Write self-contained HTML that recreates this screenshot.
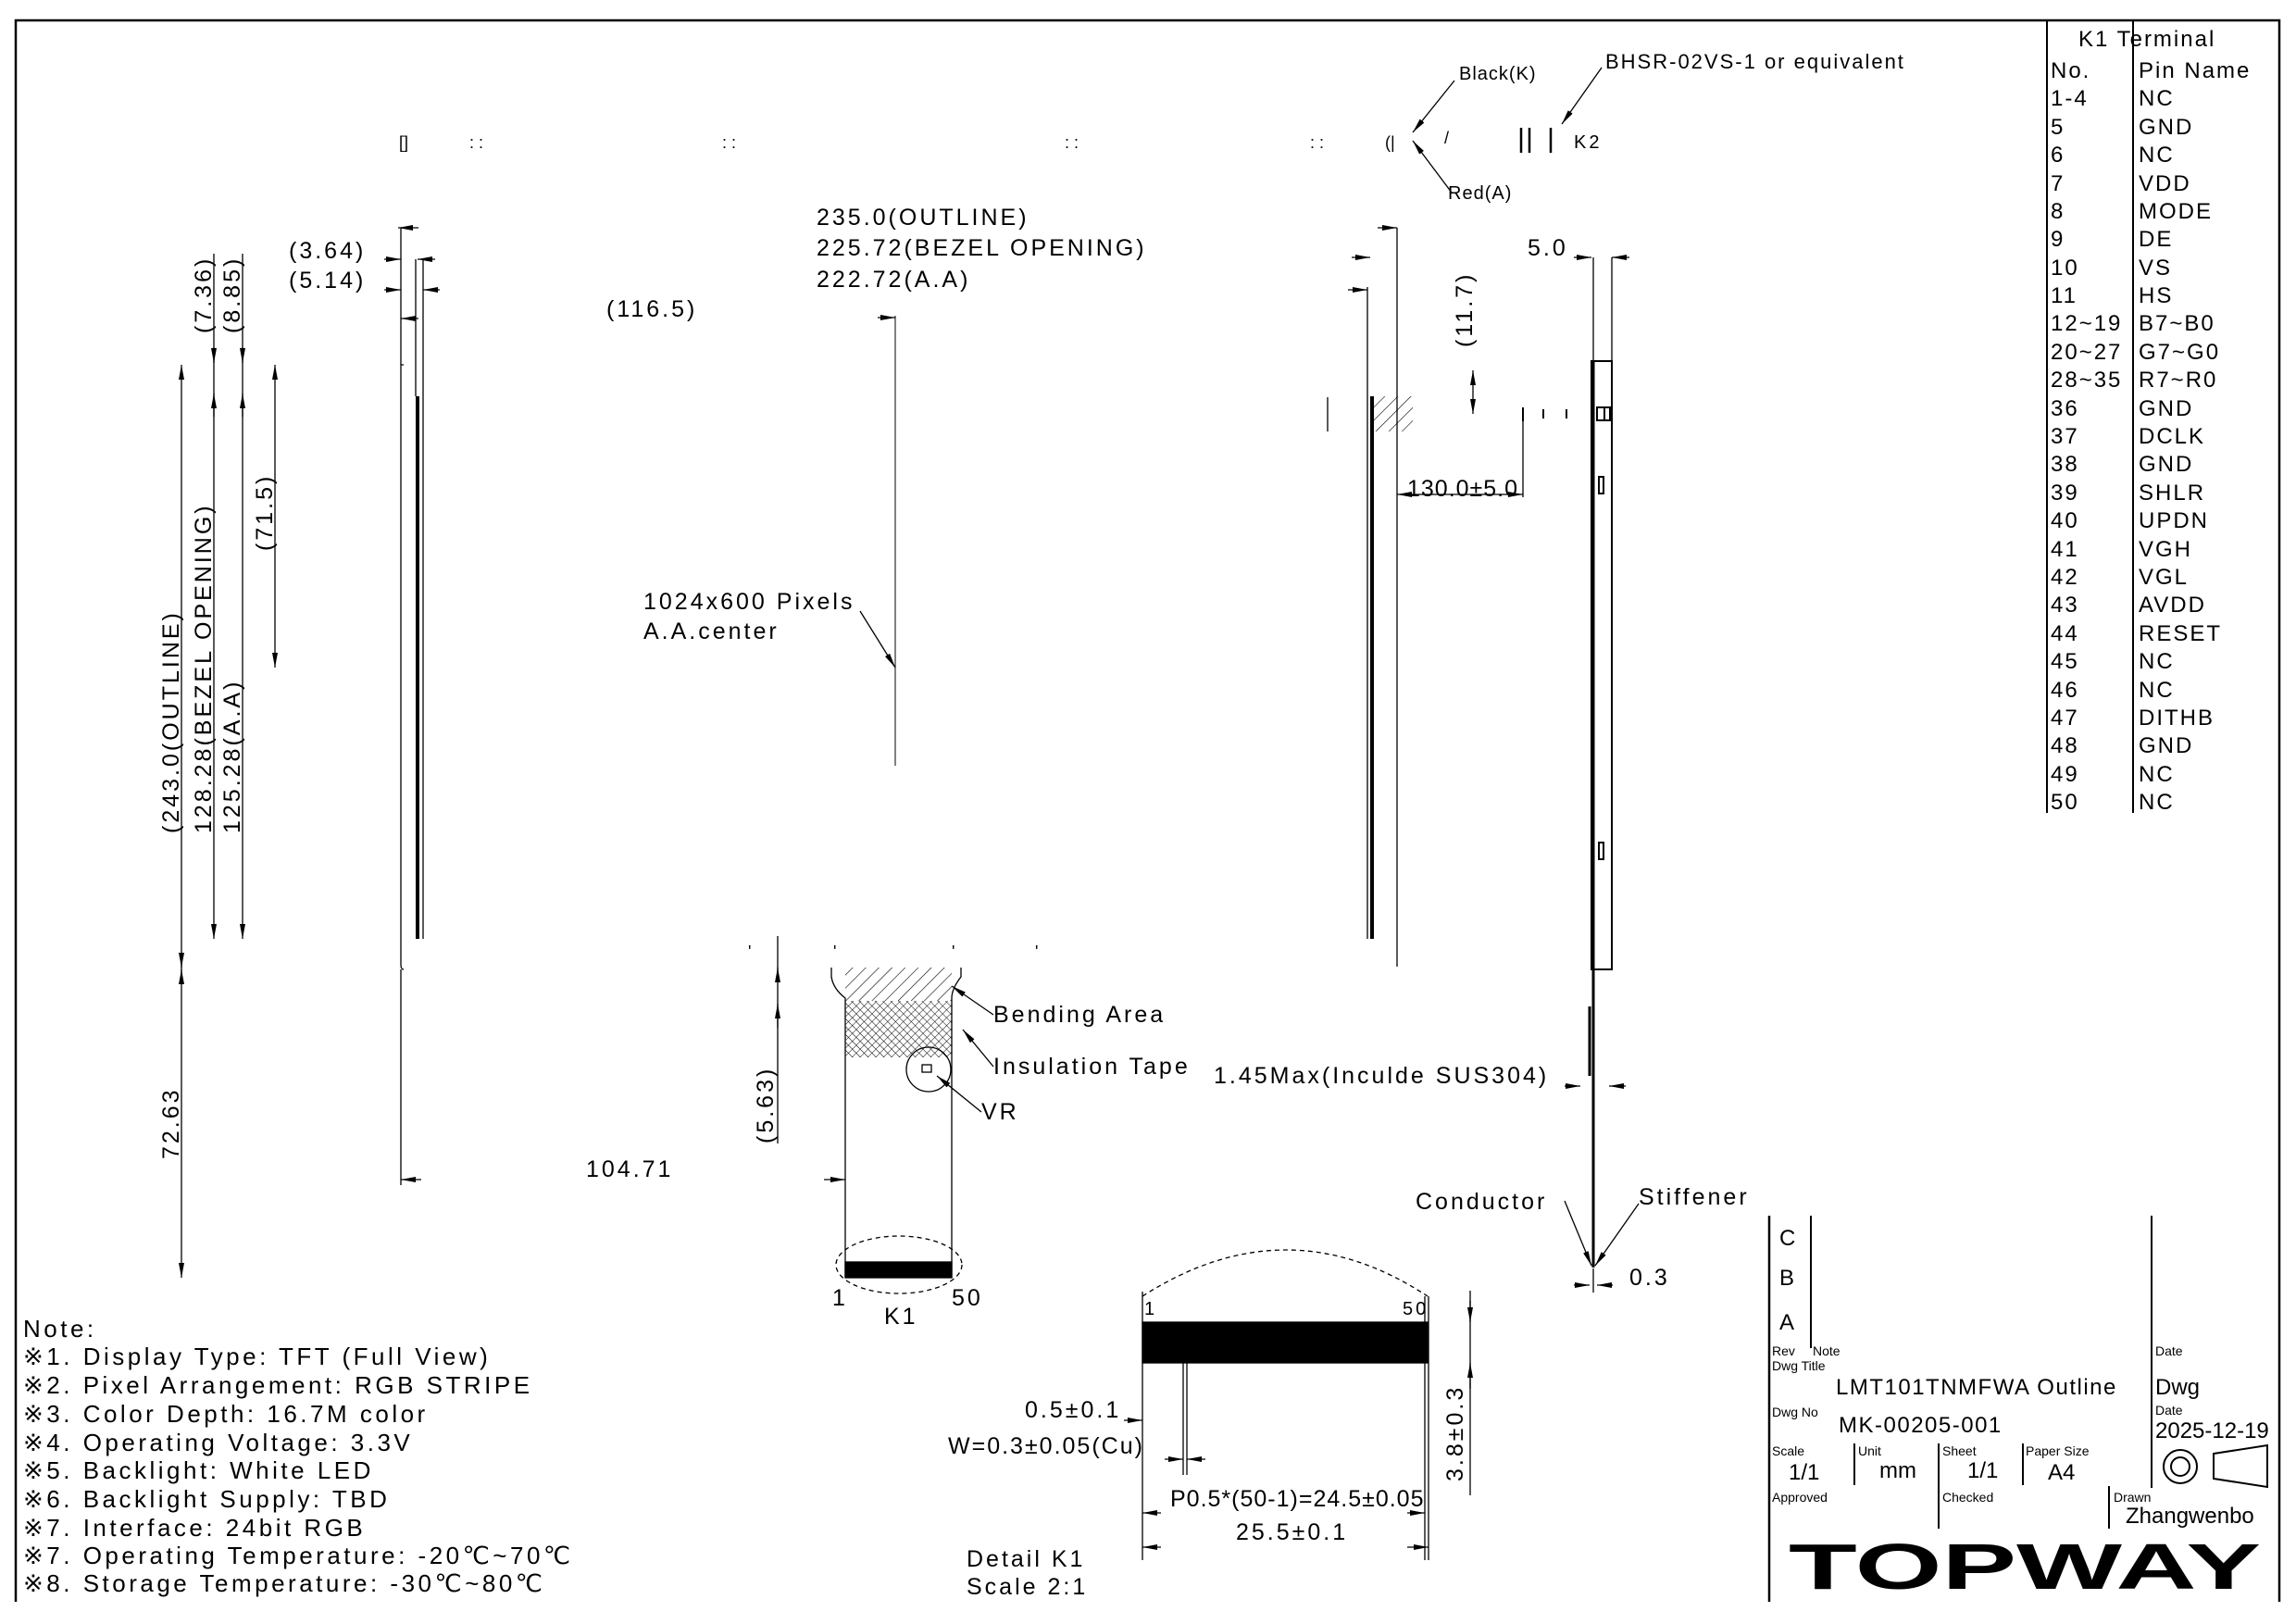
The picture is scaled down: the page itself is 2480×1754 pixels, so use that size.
<!DOCTYPE html>
<html><head><meta charset="utf-8"><style>
html,body{margin:0;padding:0;background:#fff;}
svg{display:block;}
text{font-family:"Liberation Sans",sans-serif;fill:#000;}
.t text{font-size:25px;letter-spacing:3px;}
.s{font-size:18px;}
</style></head><body>
<svg width="2480" height="1754" viewBox="0 0 2480 1754" xmlns="http://www.w3.org/2000/svg">
<defs>
<marker id="a" viewBox="0 0 16 6" refX="16" refY="3" markerWidth="16" markerHeight="6" markerUnits="userSpaceOnUse" orient="auto"><path d="M0,0L16,3L0,6z" fill="#000"/></marker>
<marker id="b" viewBox="0 0 16 6" refX="0" refY="3" markerWidth="16" markerHeight="6" markerUnits="userSpaceOnUse" orient="auto"><path d="M16,0L0,3L16,6z" fill="#000"/></marker>
<pattern id="h" width="10" height="10" patternUnits="userSpaceOnUse" patternTransform="rotate(45)"><line x1="0" y1="0" x2="0" y2="10" stroke="#000" stroke-width="1.2"/></pattern>
<pattern id="x" width="6" height="6" patternUnits="userSpaceOnUse" patternTransform="rotate(45)"><path d="M0,0V6M0,0H6" stroke="#000" stroke-width="1"/></pattern>
</defs>
<g stroke="#000" fill="none" stroke-width="1.3">
<polyline points="17,1730 17,22 2462,22 2462,1730" stroke-width="2.5"/>
<line x1="2211" y1="22" x2="2211" y2="878" stroke-width="2"/>
<line x1="2304" y1="22" x2="2304" y2="878" stroke-width="2"/>
<line x1="196" y1="394" x2="196" y2="1380" marker-start="url(#b)" marker-end="url(#a)"/>
<line x1="196" y1="1030" x2="196" y2="1045" marker-end="url(#a)"/>
<line x1="196" y1="1062" x2="196" y2="1047" marker-end="url(#a)"/>
<line x1="231" y1="274" x2="231" y2="1014" marker-end="url(#a)"/>
<line x1="231" y1="375" x2="231" y2="392" marker-end="url(#a)"/>
<line x1="231" y1="450" x2="231" y2="425" marker-end="url(#a)"/>
<line x1="262" y1="274" x2="262" y2="1014" marker-end="url(#a)"/>
<line x1="262" y1="375" x2="262" y2="392" marker-end="url(#a)"/>
<line x1="262" y1="450" x2="262" y2="425" marker-end="url(#a)"/>
<line x1="297" y1="394" x2="297" y2="721" marker-start="url(#b)" marker-end="url(#a)"/>
<path d="M436,394 H433 V1042 Q433,1047 436,1047"/>
<line x1="433" y1="1047" x2="433" y2="1280"/>
<line x1="433" y1="246" x2="433" y2="394"/>
<line x1="451" y1="428" x2="451" y2="1014" stroke-width="4"/>
<line x1="449" y1="280" x2="449" y2="428"/>
<line x1="457" y1="280" x2="457" y2="1014"/>
<line x1="430" y1="246" x2="452" y2="246" marker-start="url(#b)"/>
<line x1="415" y1="280" x2="433" y2="280" marker-end="url(#a)"/>
<line x1="470" y1="280" x2="451" y2="280" marker-end="url(#a)"/>
<line x1="415" y1="313" x2="433" y2="313" marker-end="url(#a)"/>
<line x1="475" y1="313" x2="457" y2="313" marker-end="url(#a)"/>
<line x1="433" y1="344" x2="452" y2="344" marker-start="url(#b)"/>
<line x1="967" y1="341" x2="967" y2="827" stroke-width="1"/>
<line x1="948" y1="343" x2="967" y2="343" marker-end="url(#a)"/>
<line x1="929" y1="660" x2="967" y2="721" marker-end="url(#a)"/>
<line x1="433" y1="1274" x2="455" y2="1274" marker-start="url(#b)"/>
<line x1="890" y1="1274" x2="913" y2="1274" marker-end="url(#a)"/>
<rect x="913" y="1045" width="115" height="36" fill="url(#h)" stroke="none"/>
<rect x="913" y="1081" width="115" height="61" fill="url(#x)" stroke="none"/>
<path d="M898,1045 V1055 Q900,1068 913,1078 V1380 M1038,1045 V1055 Q1028,1068 1028,1078 V1380"/>
<rect x="913" y="1363" width="115" height="17" fill="#000"/>
<ellipse cx="971" cy="1366" rx="68" ry="31" stroke-dasharray="5,4"/>
<circle cx="1003" cy="1155" r="24"/>
<rect x="996" y="1150" width="10" height="8"/>
<line x1="1073" y1="1096" x2="1028" y2="1065" marker-end="url(#a)"/>
<line x1="1073" y1="1152" x2="1040" y2="1112" marker-end="url(#a)"/>
<line x1="1060" y1="1201" x2="1012" y2="1162" marker-end="url(#a)"/>
<line x1="840" y1="1011" x2="840" y2="1235"/>
<line x1="840" y1="1060" x2="840" y2="1045" marker-end="url(#a)"/>
<line x1="840" y1="1110" x2="840" y2="1084" marker-end="url(#a)"/>
<line x1="1477" y1="310" x2="1477" y2="1014"/>
<line x1="1482" y1="428" x2="1482" y2="1014" stroke-width="4"/>
<line x1="1509" y1="246" x2="1509" y2="1044"/>
<rect x="1482" y="428" width="44" height="38" fill="url(#h)" stroke="none"/>
<line x1="1434" y1="429" x2="1434" y2="466"/>
<line x1="1488" y1="246" x2="1509" y2="246" marker-end="url(#a)"/>
<line x1="1460" y1="278" x2="1480" y2="278" marker-end="url(#a)"/>
<line x1="1456" y1="313" x2="1477" y2="313" marker-end="url(#a)"/>
<line x1="1591" y1="400" x2="1591" y2="447" marker-start="url(#b)" marker-end="url(#a)"/>
<line x1="1509" y1="534" x2="1645" y2="534" marker-start="url(#b)" marker-end="url(#a)"/>
<line x1="1645" y1="442" x2="1645" y2="537"/>
<g stroke-width="2"><line x1="1645" y1="440" x2="1645" y2="455"/><line x1="1667" y1="442" x2="1667" y2="452"/><line x1="1692" y1="442" x2="1692" y2="452"/></g>
<rect x="1719" y="390" width="22" height="657" stroke-width="2"/>
<line x1="1721" y1="390" x2="1721" y2="1047" stroke-width="3"/>
<line x1="1721" y1="278" x2="1721" y2="390"/><line x1="1741" y1="278" x2="1741" y2="390"/>
<line x1="1700" y1="278" x2="1719" y2="278" marker-end="url(#a)"/>
<line x1="1760" y1="278" x2="1741" y2="278" marker-end="url(#a)"/>
<rect x="1725" y="440" width="8" height="14" stroke-width="2"/><rect x="1733" y="440" width="6" height="14" stroke-width="2"/>
<rect x="1727" y="515" width="5" height="18" stroke-width="2"/>
<rect x="1727" y="910" width="5" height="18" stroke-width="2"/>
<line x1="1721" y1="1047" x2="1721" y2="1369" stroke-width="3"/>
<line x1="1717" y1="1087" x2="1717" y2="1162" stroke-width="3"/>
<line x1="1690" y1="1173" x2="1707" y2="1173" marker-end="url(#a)"/>
<line x1="1756" y1="1173" x2="1738" y2="1173" marker-end="url(#a)"/>
<line x1="1690" y1="1297" x2="1719" y2="1367" marker-end="url(#a)"/>
<line x1="1770" y1="1300" x2="1723" y2="1367" marker-end="url(#a)"/>
<line x1="1700" y1="1388" x2="1717" y2="1388" marker-end="url(#a)"/>
<line x1="1742" y1="1388" x2="1725" y2="1388" marker-end="url(#a)"/>
<line x1="1721" y1="1370" x2="1721" y2="1396"/>
<line x1="1571" y1="87" x2="1526" y2="143" marker-end="url(#a)"/>
<line x1="1568" y1="208" x2="1526" y2="152" marker-end="url(#a)"/>
<line x1="1730" y1="73" x2="1687" y2="134" marker-end="url(#a)"/>
<g stroke-width="2.5"><line x1="1643" y1="138" x2="1643" y2="165"/><line x1="1652" y1="138" x2="1652" y2="165"/><line x1="1675" y1="138" x2="1675" y2="165"/></g>
<path d="M1234,1400 Q1390,1300 1542,1400" stroke-dasharray="5,4"/>
<rect x="1234" y="1428" width="308" height="44" fill="#000"/>
<line x1="1234" y1="1395" x2="1234" y2="1685"/>
<line x1="1539" y1="1400" x2="1539" y2="1685"/><line x1="1543" y1="1400" x2="1543" y2="1685"/>
<line x1="1278" y1="1472" x2="1278" y2="1593"/><line x1="1282" y1="1472" x2="1282" y2="1593"/>
<line x1="1214" y1="1534" x2="1234" y2="1534" marker-end="url(#a)"/>
<line x1="1258" y1="1576" x2="1278" y2="1576" marker-end="url(#a)"/>
<line x1="1302" y1="1576" x2="1282" y2="1576" marker-end="url(#a)"/>
<line x1="1234" y1="1634" x2="1254" y2="1634" marker-start="url(#b)"/>
<line x1="1520" y1="1634" x2="1539" y2="1634" marker-end="url(#a)"/>
<line x1="1234" y1="1671" x2="1254" y2="1671" marker-start="url(#b)"/>
<line x1="1520" y1="1671" x2="1543" y2="1671" marker-end="url(#a)"/>
<line x1="1588" y1="1394" x2="1588" y2="1615"/>
<line x1="1588" y1="1405" x2="1588" y2="1428" marker-end="url(#a)"/>
<line x1="1588" y1="1500" x2="1588" y2="1472" marker-end="url(#a)"/>
<line x1="1911" y1="1313" x2="1911" y2="1730" stroke-width="2.5"/>
<line x1="1956" y1="1313" x2="1956" y2="1456" stroke-width="2"/>
<line x1="2324" y1="1313" x2="2324" y2="1607" stroke-width="2"/>
<line x1="2003" y1="1559" x2="2003" y2="1604" stroke-width="2"/>
<line x1="2094" y1="1559" x2="2094" y2="1651" stroke-width="2"/>
<line x1="2185" y1="1559" x2="2185" y2="1604" stroke-width="2"/>
<line x1="2278" y1="1605" x2="2278" y2="1651" stroke-width="2"/>
<circle cx="2355" cy="1584" r="18" stroke-width="2"/><circle cx="2355" cy="1584" r="10" stroke-width="2"/>
<path d="M2391,1570 L2449,1561 V1606 L2391,1597 Z" stroke-width="2"/>
</g>
<g class="s">
<text x="431" y="160">[]</text><text x="507" y="160">: :</text><text x="780" y="160">: :</text><text x="1150" y="160">: :</text><text x="1415" y="160">: :</text><text x="1496" y="160">(|</text><text x="1560" y="155">/</text>
<text x="808" y="1034">'</text><text x="900" y="1034">'</text><text x="1028" y="1034">'</text><text x="1118" y="1034">'</text>
</g>
<g class="t">
<text x="312" y="279">(3.64)</text><text x="312" y="311">(5.14)</text>
<text x="655" y="342">(116.5)</text>
<text x="882" y="243">235.0(OUTLINE)</text>
<text x="882" y="276">225.72(BEZEL OPENING)</text>
<text x="882" y="310">222.72(A.A)</text>
<text x="695" y="658">1024x600 Pixels</text>
<text x="695" y="690">A.A.center</text>
<text x="633" y="1271">104.71</text>
<text x="1073" y="1104">Bending Area</text>
<text x="1073" y="1160">Insulation Tape</text>
<text x="1060" y="1209">VR</text>
<text x="899" y="1410">1</text><text x="1028" y="1410">50</text><text x="955" y="1430">K1</text>
<text x="1576" y="86" style="font-size:20px;letter-spacing:1px">Black(K)</text>
<text x="1564" y="215" style="font-size:20px;letter-spacing:1px">Red(A)</text>
<text x="1734" y="74" style="font-size:22px;letter-spacing:2px">BHSR-02VS-1 or equivalent</text>
<text x="1700" y="160" style="font-size:20px">K2</text>
<text x="1650" y="276">5.0</text>
<text x="1520" y="536" style="letter-spacing:1px">130.0±5.0</text>
<text x="1311" y="1170">1.45Max(Inculde SUS304)</text>
<text x="1529" y="1306">Conductor</text>
<text x="1770" y="1301">Stiffener</text>
<text x="1760" y="1388">0.3</text>
<text x="1236" y="1420" style="font-size:20px">1</text><text x="1515" y="1420" style="font-size:20px">50</text>
<text x="1107" y="1531">0.5±0.1</text>
<text x="1024" y="1570" style="letter-spacing:2px">W=0.3±0.05(Cu)</text>
<text x="1264" y="1627" style="letter-spacing:1px">P0.5*(50-1)=24.5±0.05</text>
<text x="1335" y="1663">25.5±0.1</text>
<text x="1044" y="1692">Detail K1</text>
<text x="1044" y="1722">Scale 2:1</text>
<text transform="translate(1580,1600) rotate(-90)">3.8±0.3</text>
<text transform="translate(1590,375) rotate(-90)">(11.7)</text>
<text transform="translate(835,1235) rotate(-90)">(5.63)</text>
<text transform="translate(193,1252) rotate(-90)">72.63</text>
<text transform="translate(193,900) rotate(-90)">(243.0(OUTLINE)</text>
<text transform="translate(228,900) rotate(-90)">128.28(BEZEL OPENING)</text>
<text transform="translate(259,900) rotate(-90)">125.28(A.A)</text>
<text transform="translate(228,360) rotate(-90)">(7.36)</text>
<text transform="translate(259,360) rotate(-90)">(8.85)</text>
<text transform="translate(294,595) rotate(-90)">(71.5)</text>
</g>
<g style="font-size:26px;letter-spacing:3.5px">
<text x="25" y="1444">Note:</text>
<text x="25" y="1474">※1. Display Type: TFT (Full View)</text>
<text x="25" y="1505">※2. Pixel Arrangement: RGB STRIPE</text>
<text x="25" y="1536">※3. Color Depth: 16.7M color</text>
<text x="25" y="1567">※4. Operating Voltage: 3.3V</text>
<text x="25" y="1597">※5. Backlight: White LED</text>
<text x="25" y="1628">※6. Backlight Supply: TBD</text>
<text x="25" y="1659">※7. Interface: 24bit RGB</text>
<text x="25" y="1689">※7. Operating Temperature: -20℃~70℃</text>
<text x="25" y="1719">※8. Storage Temperature: -30℃~80℃</text>
</g>
<g style="font-size:24px;letter-spacing:2px">
<text x="2245" y="50">K1 Terminal</text>
<text x="2215" y="84">No.</text><text x="2310" y="84">Pin Name</text>
<text x="2215" y="114">1-4</text><text x="2310" y="114">NC</text>
<text x="2215" y="145">5</text><text x="2310" y="145">GND</text>
<text x="2215" y="175">6</text><text x="2310" y="175">NC</text>
<text x="2215" y="206">7</text><text x="2310" y="206">VDD</text>
<text x="2215" y="236">8</text><text x="2310" y="236">MODE</text>
<text x="2215" y="266">9</text><text x="2310" y="266">DE</text>
<text x="2215" y="297">10</text><text x="2310" y="297">VS</text>
<text x="2215" y="327">11</text><text x="2310" y="327">HS</text>
<text x="2215" y="357">12~19</text><text x="2310" y="357">B7~B0</text>
<text x="2215" y="388">20~27</text><text x="2310" y="388">G7~G0</text>
<text x="2215" y="418">28~35</text><text x="2310" y="418">R7~R0</text>
<text x="2215" y="449">36</text><text x="2310" y="449">GND</text>
<text x="2215" y="479">37</text><text x="2310" y="479">DCLK</text>
<text x="2215" y="509">38</text><text x="2310" y="509">GND</text>
<text x="2215" y="540">39</text><text x="2310" y="540">SHLR</text>
<text x="2215" y="570">40</text><text x="2310" y="570">UPDN</text>
<text x="2215" y="601">41</text><text x="2310" y="601">VGH</text>
<text x="2215" y="631">42</text><text x="2310" y="631">VGL</text>
<text x="2215" y="661">43</text><text x="2310" y="661">AVDD</text>
<text x="2215" y="692">44</text><text x="2310" y="692">RESET</text>
<text x="2215" y="722">45</text><text x="2310" y="722">NC</text>
<text x="2215" y="753">46</text><text x="2310" y="753">NC</text>
<text x="2215" y="783">47</text><text x="2310" y="783">DITHB</text>
<text x="2215" y="813">48</text><text x="2310" y="813">GND</text>
<text x="2215" y="844">49</text><text x="2310" y="844">NC</text>
<text x="2215" y="874">50</text><text x="2310" y="874">NC</text>
</g>
<g style="font-size:14px">
<text x="1914" y="1464">Rev</text><text x="1958" y="1464">Note</text><text x="2328" y="1464">Date</text>
<text x="1914" y="1480">Dwg Title</text>
<text x="1914" y="1530">Dwg No</text><text x="2328" y="1528">Date</text>
<text x="1914" y="1572">Scale</text><text x="2007" y="1572">Unit</text><text x="2098" y="1572">Sheet</text><text x="2188" y="1572">Paper Size</text>
<text x="1914" y="1622">Approved</text><text x="2098" y="1622">Checked</text><text x="2283" y="1622">Drawn</text>
</g>
<g style="font-size:24px">
<text x="1922" y="1345">C</text><text x="1922" y="1388">B</text><text x="1922" y="1436">A</text>
<text x="1983" y="1506" style="letter-spacing:1.5px">LMT101TNMFWA Outline</text>
<text x="2328" y="1506">Dwg</text>
<text x="1986" y="1547" style="letter-spacing:1.5px">MK-00205-001</text>
<text x="2328" y="1553">2025-12-19</text>
<text x="1932" y="1598">1/1</text><text x="2030" y="1596">mm</text><text x="2125" y="1596">1/1</text><text x="2212" y="1598">A4</text>
<text x="2296" y="1645">Zhangwenbo</text>
</g>
<text x="1932" y="1716" textLength="510" lengthAdjust="spacingAndGlyphs" style="font-size:70px;font-weight:bold">TOPWAY</text>
</svg>
</body></html>
